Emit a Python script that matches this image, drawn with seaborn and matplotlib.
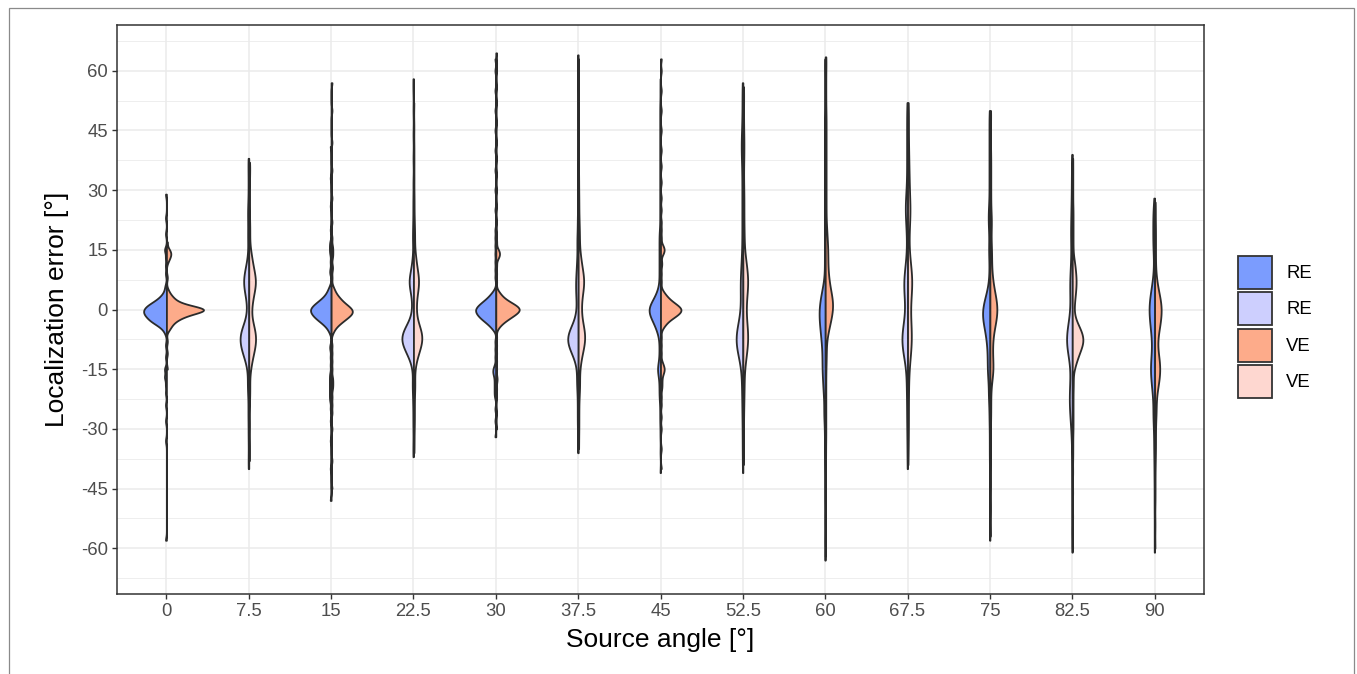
import numpy as np
import pandas as pd
import matplotlib
matplotlib.use("Agg")
import matplotlib.pyplot as plt
from matplotlib.patches import Patch, Rectangle
from matplotlib.ticker import FixedLocator
import seaborn as sns

# ---------------------------------------------------------------------------
# Localization errors per source angle and condition.
# *_core:   dense part of the response distribution as (error [deg], count)
# *_spread: individual scattered responses [deg]
# ---------------------------------------------------------------------------
angles = ["0", "7.5", "15", "22.5", "30", "37.5", "45", "52.5", "60", "67.5", "75", "82.5", "90"]
conditions = ["RE", "VE"]

re_00_core = [(-6,1),(-5,2),(-4,5),(-3,9),(-2,11),(-1,13),(0,13),(1,11),(2,7),(3,4),(4,2),(5,1),(6,1)]
re_00_spread = [-58,-33,-28,-24,-21,-19,-17,-17,-15,-15,-12,-9,9,11,13,15,15,19,23,29]
ve_00_core = [(-5,2),(-4,3),(-3,5),(-2,9),(-1,15),(0,28),(1,12),(2,6),(3,4),(4,2),(5,1)]
ve_00_spread = [-15,-11,-8,8,12,13,13,14,14,14,15,15,17]

re_07_core = [(-16,1),(-14,2),(-12,5),(-10,8),(-8,10),(-6,10),(-4,6),(-2,2),(0,2),(2,2),(4,4),(6,6),(8,6),(10,4),(12,2),(14,1)]
re_07_spread = [-40,-37,-33,-30,-27,-25,-22,-20,-19,-18,17,18,20,22,24,25,27,30,33,36,38]
ve_07_core = [(-16,1),(-14,2),(-12,3),(-10,5),(-8,6),(-6,6),(-4,4),(-2,2),(0,2),(2,3),(4,4),(6,6),(8,6),(10,4),(12,3),(14,2),(16,1)]
ve_07_spread = [-38,-34,-29,-24,-21,-19,19,21,24,28,32,35,37]

re_15_core = [(-6,1),(-5,2),(-4,4),(-3,7),(-2,10),(-1,12),(0,13),(1,11),(2,8),(3,5),(4,3),(5,2),(6,1)]
re_15_spread = [-48,-40,-33,-28,-25,-23,-22,-21,-20,-19,-18,-17,-16,-14,-12,-10,-9,9,10,12,14,15,16,17,20,26,33,41]
ve_15_core = [(-6,1),(-5,2),(-4,4),(-3,7),(-2,10),(-1,13),(0,13),(1,10),(2,7),(3,5),(4,3),(5,2),(6,1)]
ve_15_spread = [-45,-38,-30,-26,-24,-22,-20,-19,-18,-17,-15,-13,-11,-9,8,10,11,13,14,15,16,18,22,28,35,42,50,57]

re_22_core = [(-16,1),(-14,2),(-12,6),(-10,11),(-8,16),(-6,15),(-4,9),(-2,3),(0,2),(2,2),(4,3),(6,6),(8,6),(10,3),(12,2),(14,1)]
re_22_spread = [-37,-34,-30,-27,-24,-22,-20,-19,-18,17,18,20,22,25,28,32,38,44,50,55,58]
ve_22_core = [(-16,1),(-14,2),(-12,4),(-10,7),(-8,10),(-6,10),(-4,6),(-2,3),(0,3),(2,3),(4,4),(6,6),(8,6),(10,4),(12,3),(14,2),(16,1)]
ve_22_spread = [-36,-33,-30,-28,-26,-24,-22,-20,-19,-18,18,19,21,23,26,29,33,37,41,46,52]

re_30_core = [(-5,2),(-4,4),(-3,7),(-2,10),(-1,12),(0,13),(1,11),(2,8),(3,5),(4,3),(5,1)]
re_30_spread = [-32,-28,-25,-22,-21,-20,-19,-18,-17,-16,-16,-15,-15,-14,-12,-10,-8,8,10,12,14,16,18,20,25,30,35,40,45,50,55,60,63]
ve_30_core = [(-5,1),(-4,3),(-3,6),(-2,10),(-1,14),(0,17),(1,14),(2,9),(3,5),(4,3),(5,1)]
ve_30_spread = [-30,-26,-22,-20,-18,-17,-15,-13,-11,-9,-7,7,9,11,13,13,14,14,14,15,15,17,19,22,26,30,34,38,42,47,52,56,60,62,64.5]

re_37_core = [(-16,1),(-14,2),(-12,5),(-10,10),(-8,14),(-6,13),(-4,7),(-2,3),(0,2),(2,2),(4,3),(6,3),(8,3),(10,2),(12,2),(14,1)]
re_37_spread = [-36,-33,-30,-28,-26,-24,-22,-20,-19,-18,-17,16,17,18,20,22,24,27,30,33,36,40,44,48,52,56,59,62,64]
ve_37_core = [(-16,1),(-14,2),(-12,3),(-10,5),(-8,7),(-6,7),(-4,5),(-2,3),(0,3),(2,3),(4,4),(6,6),(8,6),(10,4),(12,3),(14,2),(16,1)]
ve_37_spread = [-35,-31,-28,-25,-22,-20,-19,-18,18,19,21,23,26,29,33,38,43,48,53,58,63]

re_45_core = [(-7,1),(-6,2),(-5,3),(-4,4),(-3,5),(-2,7),(-1,8),(0,9),(1,8),(2,6),(3,4),(4,3),(5,2),(6,1)]
re_45_spread = [-41,-36,-32,-29,-27,-25,-23,-22,-21,-20,-19,-18,-17,-16,-16,-15,-15,-15,-14,-14,-13,-12,-11,-10,-9,-8,
                7,8,9,10,11,12,13,14,15,16,17,18,19,20,22,24,26,28,30,32,34,36,38,40,42,44,46,48,50,52,55,58]
ve_45_core = [(-5,1),(-4,3),(-3,5),(-2,9),(-1,13),(0,15),(1,12),(2,8),(3,5),(4,3),(5,1)]
ve_45_spread = [-40,-35,-30,-27,-24,-22,-20,-19,-18,-17,-16,-16,-15,-15,-15,-14,-14,-13,-11,-9,-7,
                7,9,11,12,14,14,15,15,15,16,16,18,20,22,25,28,32,36,40,45,50,55,60,63]

re_52_core = [(-16,1),(-14,2),(-12,4),(-10,7),(-8,9),(-6,9),(-4,5),(-2,3),(0,2),(2,2),(4,3),(6,3),(8,3),(10,2),(12,2),(14,1)]
re_52_spread = [-41,-37,-34,-31,-28,-26,-24,-22,-20,-19,-18,16,18,20,22,24,26,28,30,32,34,36,38,39,40,41,42,43,44,46,48,50,53,55,57]
ve_52_core = [(-16,1),(-14,2),(-12,3),(-10,4),(-8,5),(-6,5),(-4,4),(-2,3),(0,3),(2,3),(4,4),(6,5),(8,5),(10,4),(12,3),(14,2),(16,1)]
ve_52_spread = [-39,-35,-31,-28,-25,-23,-21,-19,-18,18,19,21,23,25,27,29,31,34,37,39,41,43,45,48,51,54,56]

re_60_core = [(-24,1),(-22,2),(-20,3),(-18,3),(-16,4),(-14,4),(-12,4),(-10,4),(-8,5),(-6,6),(-4,7),(-2,8),(0,8),(2,7),(4,5),(6,3),(8,1)]
re_60_spread = [-63,-58,-53,-48,-44,-40,-37,-34,-32,-30,-28,-27,-26,-25,10,12,14,16,18,20,22,24,26,28,30,32,34,36,38,40,42,44,46,48,52,56,60,63]
ve_60_core = [(-8,1),(-6,3),(-4,5),(-2,7),(0,9),(2,9),(4,7),(6,5),(8,4),(10,3),(12,3),(14,3),(16,3),(18,2),(20,2),(22,1)]
ve_60_spread = [-62,-55,-48,-42,-37,-33,-30,-27,-24,-21,-18,-15,-13,-11,-10,24,26,28,30,32,34,36,38,40,42,44,46,48,50,53,56,59,62,63.5]

re_67_core = [(-16,1),(-14,2),(-12,4),(-10,6),(-8,8),(-6,7),(-4,5),(-2,3),(0,2),(2,3),(4,4),(6,5),(8,5),(10,3),(12,2),(14,1)]
re_67_spread = [-40,-36,-33,-30,-28,-26,-24,-22,-20,-19,-18,16,18,20,21,22,23,24,25,25,26,26,27,28,29,30,32,34,36,38,40,42,44,46,48,50,52]
ve_67_core = [(-16,1),(-14,2),(-12,3),(-10,4),(-8,5),(-6,5),(-4,4),(-2,3),(0,3),(2,3),(4,4),(6,6),(8,6),(10,4),(12,3),(14,2),(16,1)]
ve_67_spread = [-39,-36,-33,-31,-29,-27,-25,-23,-21,-19,-18,18,19,20,21,22,23,24,24,25,25,26,26,27,28,29,30,31,32,33,34,35,37,38,39,41,43,45,47,49,51,52]

re_75_core = [(-20,1),(-18,2),(-16,3),(-14,3),(-12,3),(-10,3),(-8,4),(-6,5),(-4,7),(-2,9),(0,9),(2,7),(4,4),(6,2),(8,1)]
re_75_spread = [-58,-52,-47,-42,-38,-35,-32,-29,-27,-25,-23,-22,-21,10,12,14,15,16,18,20,21,22,23,24,25,26,28,30,32,34,36,38,40,42,44,46,48,50]
ve_75_core = [(-20,1),(-18,2),(-16,4),(-14,4),(-12,3),(-10,3),(-8,3),(-6,4),(-4,6),(-2,8),(0,9),(2,8),(4,6),(6,4),(8,3),(10,2),(12,2),(14,2),(16,2),(18,1)]
ve_75_spread = [-57,-50,-44,-39,-35,-31,-28,-26,-24,-22,20,21,22,23,24,26,28,30,32,34,36,38,40,43,46,49,50]

re_82_core = [(-16,1),(-14,2),(-12,4),(-10,6),(-8,8),(-6,7),(-4,5),(-2,3),(0,2),(2,2),(4,3),(6,3),(8,3),(10,2),(12,2),(14,1)]
re_82_spread = [-61,-55,-50,-45,-41,-37,-34,-32,-30,-29,-28,-27,-26,-26,-25,-24,-24,-23,-23,-22,-22,-21,-20,-20,-19,-18,-18,-17,
                16,17,18,19,20,21,22,24,25,26,28,30,32,34,36,39]
ve_82_core = [(-16,1),(-14,4),(-12,7),(-10,11),(-8,15),(-6,13),(-4,8),(-2,3),(0,2),(2,3),(4,4),(6,5),(8,5),(10,4),(12,3),(14,1)]
ve_82_spread = [-60,-52,-46,-41,-37,-34,-31,-29,-27,-25,-23,-21,-19,-18,16,18,20,22,24,26,29,32,35,38]

re_90_core = [(-24,1),(-22,2),(-20,3),(-18,4),(-16,5),(-14,5),(-12,4),(-10,3),(-8,3),(-6,4),(-4,5),(-2,6),(0,7),(2,6),(4,5),(6,3),(8,2),(10,1),(12,1)]
re_90_spread = [-61,-56,-51,-47,-43,-40,-37,-35,-33,-31,-29,-28,-27,-26,-25,14,15,16,17,18,19,20,21,22,23,24,25,26,28]
ve_90_core = [(-24,1),(-22,2),(-20,3),(-18,5),(-16,6),(-14,6),(-12,5),(-10,3),(-8,3),(-6,4),(-4,6),(-2,7),(0,8),(2,7),(4,5),(6,3),(8,2),(10,1),(12,1)]
ve_90_spread = [-60,-54,-48,-44,-40,-37,-35,-33,-31,-29,-27,-26,-25,14,16,18,20,22,25,27]

re_groups = [
    (re_00_core, re_00_spread), (re_07_core, re_07_spread), (re_15_core, re_15_spread),
    (re_22_core, re_22_spread), (re_30_core, re_30_spread), (re_37_core, re_37_spread),
    (re_45_core, re_45_spread), (re_52_core, re_52_spread), (re_60_core, re_60_spread),
    (re_67_core, re_67_spread), (re_75_core, re_75_spread), (re_82_core, re_82_spread),
    (re_90_core, re_90_spread),
]
ve_groups = [
    (ve_00_core, ve_00_spread), (ve_07_core, ve_07_spread), (ve_15_core, ve_15_spread),
    (ve_22_core, ve_22_spread), (ve_30_core, ve_30_spread), (ve_37_core, ve_37_spread),
    (ve_45_core, ve_45_spread), (ve_52_core, ve_52_spread), (ve_60_core, ve_60_spread),
    (ve_67_core, ve_67_spread), (ve_75_core, ve_75_spread), (ve_82_core, ve_82_spread),
    (ve_90_core, ve_90_spread),
]

y_ticks = [-60, -45, -30, -15, 0, 15, 30, 45, 60]
y_tick_labels = ["-60", "-45", "-30", "-15", "0", "15", "30", "45", "60"]
legend_labels = ["RE", "RE", "VE", "VE"]

# Fill colours: even angles use the strong pair, odd angles the pale pair
strong = {"RE": "#7B9CFE", "VE": "#FDAB8A"}
pale = {"RE": "#CDCFFE", "VE": "#FED7D0"}
outline = "#2B2B2B"


def expand(core, spread):
    vals = np.repeat([v for v, _ in core], [c for _, c in core]).astype(float)
    return np.concatenate([vals, np.asarray(spread, dtype=float)])


frames = []
for ang, re_g, ve_g in zip(angles, re_groups, ve_groups):
    for cond, g in (("RE", re_g), ("VE", ve_g)):
        err = expand(*g)
        frames.append(pd.DataFrame({"angle": ang, "condition": cond, "error": err}))
df = pd.concat(frames, ignore_index=True)


def robust_bandwidth(kde):
    """Silverman-type rule (robust spread), scaled down and floored at 0.8 deg."""
    x = kde.dataset.ravel()
    sd = x.std(ddof=1)
    q25, q75 = np.percentile(x, [25, 75])
    h = 0.9 * min(sd, (q75 - q25) / 1.34) * x.size ** -0.2
    h = max(0.8, 0.45 * h)
    return h / sd


plt.rcParams["font.family"] = ["Liberation Sans", "DejaVu Sans"]

W, H = 1357, 674
fig = plt.figure(figsize=(W / 100, H / 100), dpi=100)
ax = fig.add_axes([117 / W, 1 - 594 / H, (1204 - 117) / W, (594 - 25) / H])

sns.violinplot(
    data=df, x="angle", y="error", hue="condition",
    order=angles, hue_order=conditions, split=True, inner=None, cut=0,
    width=0.9, density_norm="area", common_norm=True,
    bw_method=robust_bandwidth, gridsize=1500,
    palette=strong, linecolor=outline, linewidth=1.3, saturation=1,
    legend=False, ax=ax,
)

# Pale fills for the odd angles
light_idx = set(range(1, len(angles), 2))
for coll in ax.collections:
    paths = coll.get_paths()
    if not paths:
        continue
    xs = paths[0].vertices[:, 0]
    i = int(round(0.5 * (xs.min() + xs.max())))
    if i in light_idx:
        side = "RE" if xs.mean() < i else "VE"
        coll.set_facecolor(pale[side])

ax.set_xlim(-0.6, len(angles) - 1 + 0.6)
ax.set_ylim(-71.5, 71.5)
ax.set_yticks(y_ticks)
ax.set_yticklabels(y_tick_labels)
ax.yaxis.set_minor_locator(FixedLocator([t + 7.5 for t in [-75] + y_ticks]))
ax.set_axisbelow(True)
ax.grid(True, which="major", color="#EBEBEB", linewidth=1.1)
ax.grid(True, which="minor", axis="y", color="#EBEBEB", linewidth=0.6)
ax.tick_params(which="minor", length=0)
ax.tick_params(which="major", length=3.4, width=1.0, color="#333333",
               labelsize=13.3, labelcolor="#4D4D4D", pad=3)
for sp in ax.spines.values():
    sp.set_color("#333333")
    sp.set_linewidth(1.1)

ax.set_xlabel("Source angle [°]", fontsize=19, color="black", labelpad=6)
ax.set_ylabel("Localization error [°]", fontsize=19, color="black", labelpad=9)

handles = [
    Patch(facecolor=strong["RE"], edgecolor="#333333", linewidth=1.3),
    Patch(facecolor=pale["RE"], edgecolor="#333333", linewidth=1.3),
    Patch(facecolor=strong["VE"], edgecolor="#333333", linewidth=1.3),
    Patch(facecolor=pale["VE"], edgecolor="#333333", linewidth=1.3),
]
fig.legend(handles, legend_labels, loc="center left",
           bbox_to_anchor=(1238 / W, 1 - 327 / H), frameon=False,
           fontsize=13.3, handlelength=1.84, handleheight=2.37,
           labelspacing=0.19, handletextpad=0.76, borderpad=0, borderaxespad=0)

# Thin frame around the figure
fig.add_artist(Rectangle((9 / W, -0.05), (1354 - 9) / W, (674 - 8) / H + 0.05,
                         transform=fig.transFigure, fill=False,
                         edgecolor="#8A8A8A", linewidth=0.9))

fig.savefig("out.png", dpi=100, facecolor="white")
